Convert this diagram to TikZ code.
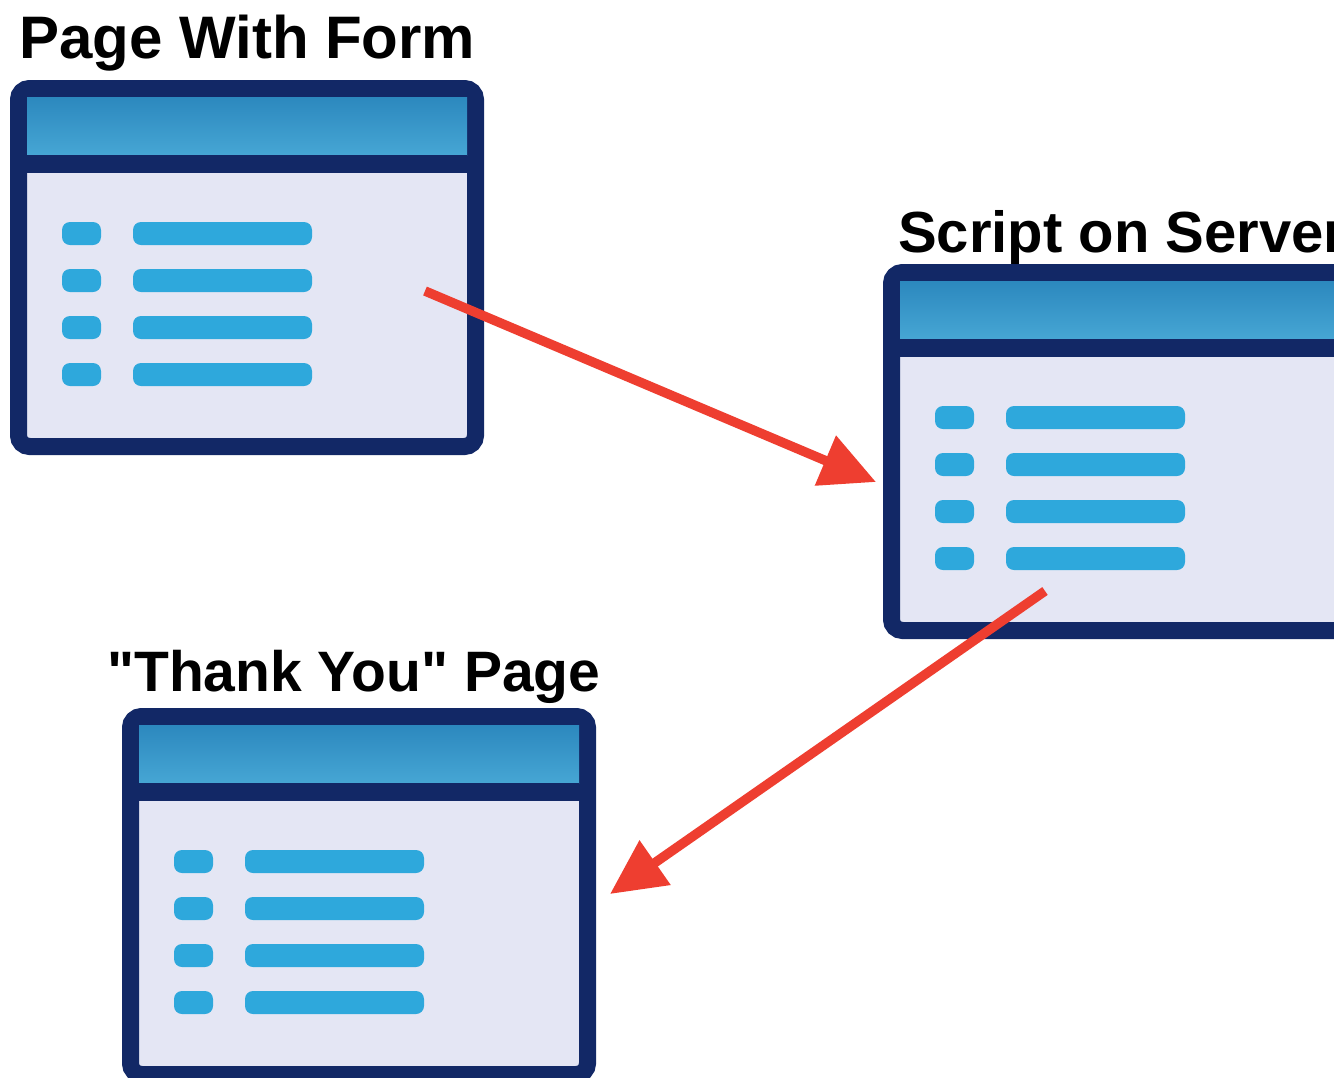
\documentclass[tikz,border=0pt]{standalone}
\usepackage{fontspec}
\setmainfont{Liberation Sans}[Ligatures=TeXOff]
\usetikzlibrary{arrows.meta}
\definecolor{navy}{RGB}{18,40,102}
\definecolor{hdrtop}{RGB}{44,136,190}
\definecolor{hdrbot}{RGB}{70,166,212}
\definecolor{bodyfill}{RGB}{228,230,244}
\definecolor{bullet}{RGB}{46,168,220}
\definecolor{arrowred}{RGB}{238,62,48}
\tikzset{
  frame/.style={draw=navy, line width=17pt, fill=bodyfill, rounded corners=11pt,
    minimum width=457pt, minimum height=358pt, inner sep=0pt, outer sep=0pt, shape=rectangle},
  hdr/.style={top color=hdrtop, bottom color=hdrbot, draw=none},
  divider/.style={fill=navy, draw=none},
  bul/.style={fill=bullet, draw=none, rounded corners=8pt},
  title/.style={font=\bfseries\fontsize{60}{60}\selectfont, anchor=base west, inner sep=0pt},
  redarrow/.style={draw=arrowred, line width=9.5pt, -{Triangle[length=55pt,width=52pt]}}
}
\newcommand{\drawwin}[3]{% name, X, Y (outer top-left)
  \node[frame] (#1) at (#2+237,#3+187.5) {};
  \fill[hdr] (#2+17,#3+17) rectangle (#2+457,#3+75);
  \fill[divider] (#2+17,#3+75) rectangle (#2+457,#3+93);
  \foreach \k in {0,1,2,3}{
    \fill[bul] (#2+52,#3+142+47*\k) rectangle (#2+91,#3+165+47*\k);
    \fill[bul] (#2+123,#3+142+47*\k) rectangle (#2+302,#3+165+47*\k);
  }
}
\begin{document}
\begin{tikzpicture}[x=1pt,y=-1pt]
\useasboundingbox (0,0) rectangle (1334,1077);
\clip (0,0) rectangle (1334,1077);
\fill[white] (0,0) rectangle (1334,1077);
\drawwin{w1}{10}{80}
\drawwin{w2}{883}{264}
\drawwin{w3}{122}{708}
\node[title] (t1) at (19,58) {Page With Form};
\node[title, font=\bfseries\fontsize{58}{58}\selectfont] (t2) at (898,252) {Script on Server};
\node[title, font=\bfseries\fontsize{57}{57}\selectfont] (t3) at (107,691) {"Thank You" Page};
\coordinate (a1s) at (425,291);
\coordinate (a1e) at (876,482);
\coordinate (a2s) at (1045,591);
\coordinate (a2e) at (610,894);
\draw[redarrow] (a1s) -- (a1e);
\draw[redarrow] (a2s) -- (a2e);
\end{tikzpicture}
\end{document}
